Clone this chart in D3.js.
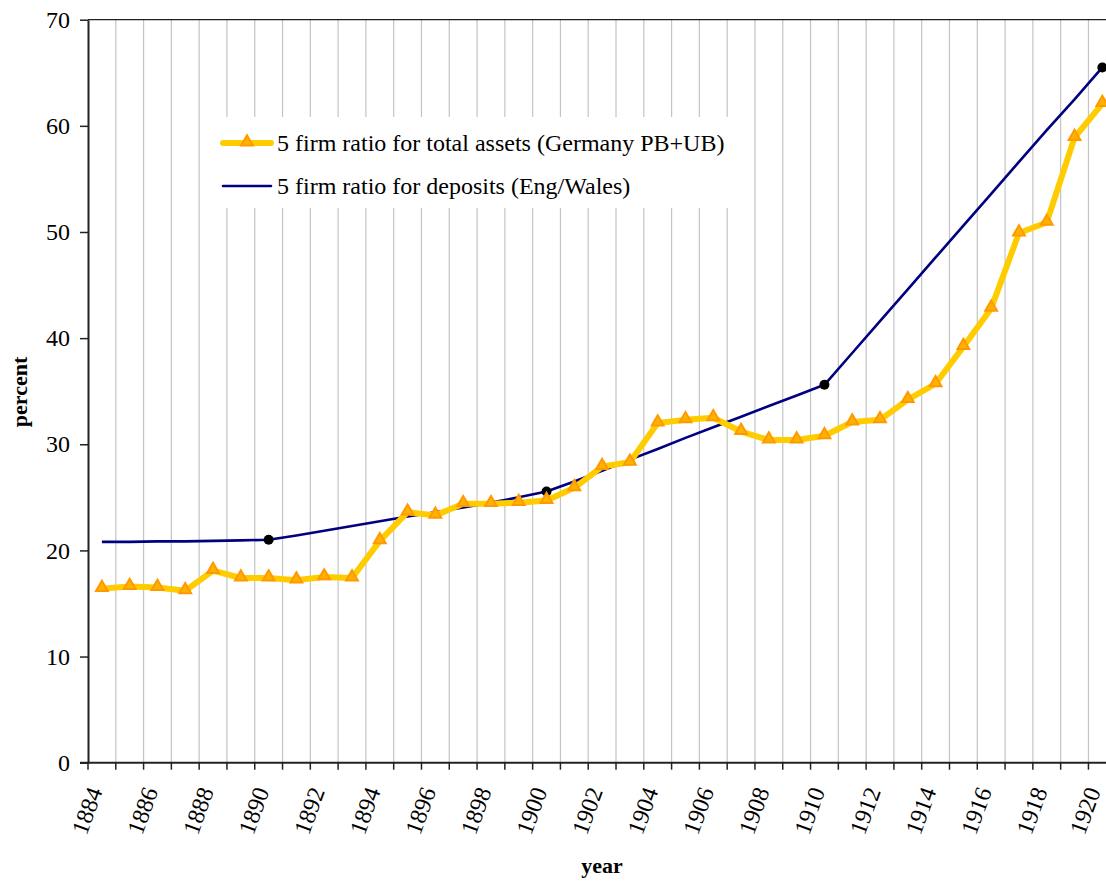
<!DOCTYPE html>
<html>
<head>
<meta charset="utf-8">
<script src="https://cdn.jsdelivr.net/npm/d3@7"></script>
<style>
  body { margin: 0; background: #fff; }
  svg { display: block; font-family: "Liberation Serif", "Times New Roman", serif; }
</style>
</head>
<body>
<svg id="chart" width="1106" height="881"></svg>
<script>
// Years on the category axis
const years = d3.range(1884, 1921);

// Germany: 5 firm concentration ratio for total assets (private + universal banks), percent
const germanyAssets = [
  16.4, 16.6, 16.5, 16.2, 18.1, 17.4, 17.4, 17.2, 17.5, 17.4,
  20.9, 23.6, 23.3, 24.4, 24.4, 24.5, 24.7, 25.9, 27.9, 28.3,
  32.0, 32.3, 32.5, 31.2, 30.4, 30.4, 30.8, 32.1, 32.3, 34.2,
  35.7, 39.2, 42.8, 49.9, 50.9, 58.9, 62.1
];

// England/Wales: 5 firm concentration ratio for deposits, percent
const engWalesDeposits = [
  20.8, 20.8, 20.85, 20.85, 20.9, 20.95, 21.0, 21.4, 21.85, 22.3,
  22.75, 23.2, 23.6, 24.05, 24.5, 25.0, 25.55, 26.5, 27.5, 28.55,
  29.55, 30.6, 31.6, 32.6, 33.6, 34.6, 35.6, 38.6, 41.6, 44.6,
  47.6, 50.6, 53.6, 56.6, 59.6, 62.5, 65.5
];

// Years with an observed value for the deposits series (black dots)
const engWalesObsYears = [1890, 1900, 1910, 1920];

const yTicks = [0, 10, 20, 30, 40, 50, 60, 70];
const xLabelYears = years.filter(y => y % 2 === 0);

const legendLabels = [
  "5 firm ratio for total assets (Germany PB+UB)",
  "5 firm ratio for deposits (Eng/Wales)"
];

const svg = d3.select("#chart");

const plot = { left: 88, top: 19.7, bottom: 762.7 };
const band = 27.79;

const x = d3.scaleBand()
  .domain(years)
  .range([plot.left, plot.left + band * years.length])
  .padding(0);
const cx = yr => x(yr) + x.bandwidth() / 2;

const y = d3.scaleLinear().domain([0, 70]).range([plot.bottom, plot.top]);

// vertical gridlines at category boundaries
const boundaries = years.slice(1).map(yr => x(yr)).concat([x(years[years.length - 1]) + x.bandwidth()]);
svg.append("g")
  .selectAll("line")
  .data(boundaries)
  .join("line")
  .attr("x1", d => d).attr("x2", d => d)
  .attr("y1", plot.top).attr("y2", plot.bottom)
  .attr("stroke", "#c4c4c4")
  .attr("stroke-width", 1.2);

// top frame line
svg.append("line")
  .attr("x1", plot.left).attr("x2", 1106)
  .attr("y1", plot.top).attr("y2", plot.top)
  .attr("stroke", "#222").attr("stroke-width", 1.3);

// legend background
const legend = svg.append("g");
legend.append("rect")
  .attr("x", 208).attr("y", 117)
  .attr("width", 538).attr("height", 91)
  .attr("fill", "#fff");

// y axis
const yAxis = svg.append("g")
  .attr("transform", `translate(${plot.left},0)`)
  .call(d3.axisLeft(y).tickValues(yTicks).tickSize(8).tickPadding(10).tickSizeOuter(0));
yAxis.select(".domain").attr("stroke", "#222").attr("stroke-width", 2);
yAxis.selectAll(".tick line").attr("stroke", "#222").attr("stroke-width", 1.5);
yAxis.selectAll(".tick text")
  .attr("font-size", 24)
  .attr("font-family", "'Liberation Serif', serif")
  .attr("fill", "#000");

// x axis line and boundary ticks
const xAxis = svg.append("g");
xAxis.append("line")
  .attr("x1", plot.left - 8).attr("x2", 1106)
  .attr("y1", plot.bottom).attr("y2", plot.bottom)
  .attr("stroke", "#222").attr("stroke-width", 2);
xAxis.selectAll("line.tick")
  .data([x(years[0])].concat(boundaries))
  .join("line")
  .attr("class", "tick")
  .attr("x1", d => d).attr("x2", d => d)
  .attr("y1", plot.bottom).attr("y2", plot.bottom + 7)
  .attr("stroke", "#222").attr("stroke-width", 1.5);
xAxis.selectAll("text")
  .data(xLabelYears)
  .join("text")
  .attr("transform", d => `translate(${Math.min(cx(d) + 1, 1101)},791) rotate(-70)`)
  .attr("text-anchor", "end")
  .attr("font-size", 24)
  .attr("fill", "#000")
  .text(d => d);

// axis titles
svg.append("text")
  .attr("transform", "translate(27,392) rotate(-90)")
  .attr("text-anchor", "middle")
  .attr("font-size", 22)
  .attr("font-weight", "bold")
  .text("percent");
svg.append("text")
  .attr("x", 602).attr("y", 873)
  .attr("text-anchor", "middle")
  .attr("font-size", 22)
  .attr("font-weight", "bold")
  .text("year");

// deposits line (England/Wales)
const lineGen = d3.line().x((d, i) => cx(years[i])).y(d => y(d));
svg.append("path")
  .attr("d", lineGen(engWalesDeposits))
  .attr("fill", "none")
  .attr("stroke", "#000080")
  .attr("stroke-width", 2.6)
  .attr("stroke-linejoin", "round");

svg.append("g")
  .selectAll("circle")
  .data(engWalesObsYears)
  .join("circle")
  .attr("cx", d => cx(d))
  .attr("cy", d => y(engWalesDeposits[years.indexOf(d)]))
  .attr("r", 5)
  .attr("fill", "#000");

// total assets line (Germany)
svg.append("path")
  .attr("d", lineGen(germanyAssets))
  .attr("fill", "none")
  .attr("stroke", "#FFCC00")
  .attr("stroke-width", 6)
  .attr("stroke-linejoin", "round");

const tri = d3.symbol().type(d3.symbolTriangle).size(60);
svg.append("g")
  .selectAll("path")
  .data(germanyAssets)
  .join("path")
  .attr("transform", (d, i) => `translate(${cx(years[i])},${y(d) - 1})`)
  .attr("d", tri)
  .attr("fill", "#FFB300")
  .attr("stroke", "#FF9900")
  .attr("stroke-width", 2);

// legend entries
const legendRows = [
  { label: legendLabels[0], y: 143, color: "#FFCC00", width: 6, marker: true },
  { label: legendLabels[1], y: 186, color: "#000080", width: 2.6, marker: false }
];
legendRows.forEach(r => {
  legend.append("line")
    .attr("x1", 223).attr("x2", 271)
    .attr("y1", r.y).attr("y2", r.y)
    .attr("stroke", r.color)
    .attr("stroke-width", r.width)
    .attr("stroke-linecap", "round");
  if (r.marker) {
    legend.append("path")
      .attr("transform", `translate(247,${r.y - 1})`)
      .attr("d", tri)
      .attr("fill", "#FFB300")
      .attr("stroke", "#FF9900")
      .attr("stroke-width", 2);
  }
  legend.append("text")
    .attr("x", 277).attr("y", r.y + 8)
    .attr("font-size", 24)
    .attr("fill", "#000")
    .text(r.label);
});
</script>
</body>
</html>
